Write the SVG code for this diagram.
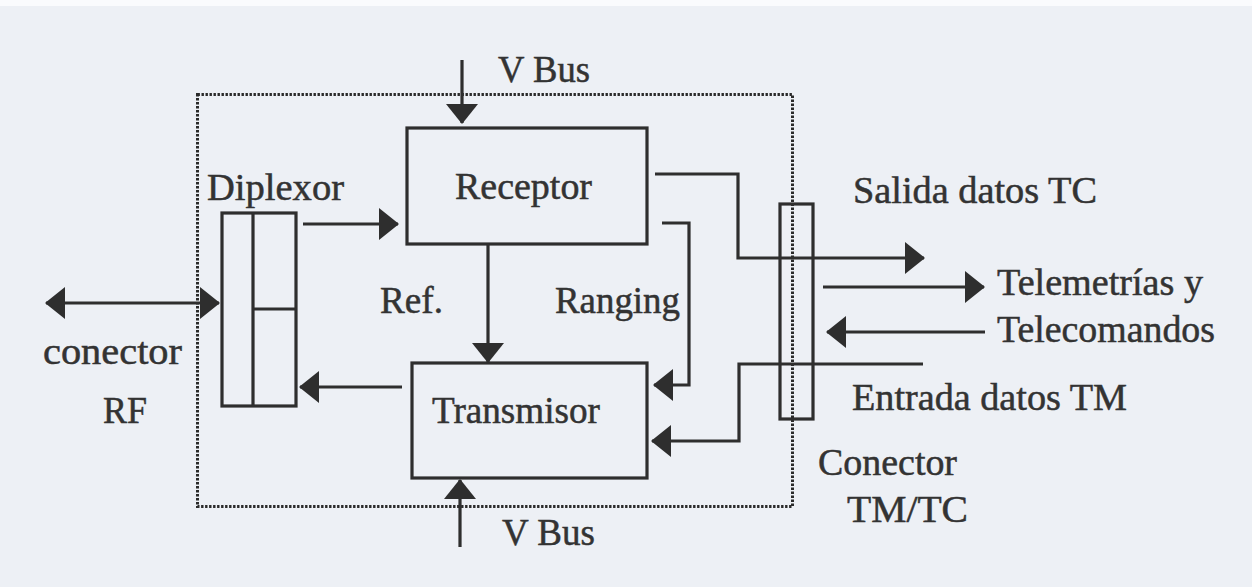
<svg xmlns="http://www.w3.org/2000/svg" width="1252" height="587" viewBox="0 0 1252 587">
<style>
.t{font-family:"Liberation Serif","Times New Roman",serif;font-size:37px;fill:#333;stroke:#333;stroke-width:0.5}
.b{fill:none;stroke:#2e2e2e;stroke-width:3.2}
.c{fill:none;stroke:#2e2e2e;stroke-width:3.2;marker-end:url(#ah)}
.dot{fill:none;stroke:#2a2a2a;stroke-width:3;stroke-dasharray:2.4 1.6}
</style>
<defs>
<marker id="ah" markerUnits="userSpaceOnUse" viewBox="0 0 20 32" markerWidth="20" markerHeight="32" refX="19" refY="16" orient="auto-start-reverse" overflow="visible">
<path d="M0,0 L20,16 L0,32 Z" fill="#2e2e2e"/>
</marker>
</defs>
<rect width="1252" height="587" fill="#edf0f5"/>
<rect width="1252" height="6" fill="#fafbfd"/>
<g id="frame">
<rect class="dot" x="197.5" y="94.5" width="595" height="412"/>
</g>
<g id="diplexor">
<rect class="b" x="222" y="213" width="74" height="193"/>
<line class="b" x1="253" y1="213" x2="253" y2="406"/>
<line class="b" x1="253" y1="309" x2="296" y2="309"/>
<text class="t" x="207" y="200" textLength="137" lengthAdjust="spacingAndGlyphs">Diplexor</text>
</g>
<g id="receptor">
<rect class="b" x="407" y="128" width="240" height="116"/>
<text class="t" x="455" y="199" textLength="137" lengthAdjust="spacingAndGlyphs">Receptor</text>
</g>
<g id="transmisor">
<rect class="b" x="412" y="363" width="235" height="115"/>
<text class="t" x="432" y="423" textLength="168" lengthAdjust="spacingAndGlyphs">Transmisor</text>
</g>
<g id="conector-tmtc">
<rect class="b" x="780" y="204" width="33" height="215"/>
<text class="t" x="818" y="475" textLength="139" lengthAdjust="spacingAndGlyphs">Conector</text>
<text class="t" x="847" y="522" textLength="121" lengthAdjust="spacingAndGlyphs">TM/TC</text>
</g>
<g id="conector-rf">
<text class="t" x="43" y="364" textLength="139" lengthAdjust="spacingAndGlyphs">conector</text>
<text class="t" x="103" y="423" textLength="44" lengthAdjust="spacingAndGlyphs">RF</text>
</g>
<g id="labels">
<text class="t" x="498" y="82" textLength="92" lengthAdjust="spacingAndGlyphs">V Bus</text>
<text class="t" x="502" y="545" textLength="93" lengthAdjust="spacingAndGlyphs">V Bus</text>
<text class="t" x="380" y="313" textLength="63" lengthAdjust="spacingAndGlyphs">Ref.</text>
<text class="t" x="555" y="313" textLength="125" lengthAdjust="spacingAndGlyphs">Ranging</text>
<text class="t" x="853" y="203" textLength="244" lengthAdjust="spacingAndGlyphs">Salida datos TC</text>
<text class="t" x="997" y="295" textLength="206" lengthAdjust="spacingAndGlyphs">Telemetrías y</text>
<text class="t" x="997" y="342" textLength="218" lengthAdjust="spacingAndGlyphs">Telecomandos</text>
<text class="t" x="852" y="410" textLength="275" lengthAdjust="spacingAndGlyphs">Entrada datos TM</text>
</g>
<g id="connectors">
<line class="c" x1="462" y1="60" x2="462" y2="123"/>
<line class="c" x1="460" y1="547" x2="460" y2="480"/>
<line class="c" x1="303" y1="224" x2="398" y2="224"/>
<line class="c" x1="402" y1="387" x2="300" y2="387"/>
<line class="c" x1="488" y1="244" x2="488" y2="362"/>
<line class="c" x1="46" y1="303" x2="219" y2="303" style="marker-start:url(#ah)"/>
<polyline class="c" points="655,174 738,174 738,258 924,258"/>
<polyline class="c" points="662,223 689,223 689,385 654,385"/>
<polyline class="c" points="923,364 739,364 739,441 652,441"/>
<line class="c" x1="823" y1="287" x2="984" y2="287"/>
<line class="c" x1="985" y1="332" x2="827" y2="332"/>
</g>
</svg>
